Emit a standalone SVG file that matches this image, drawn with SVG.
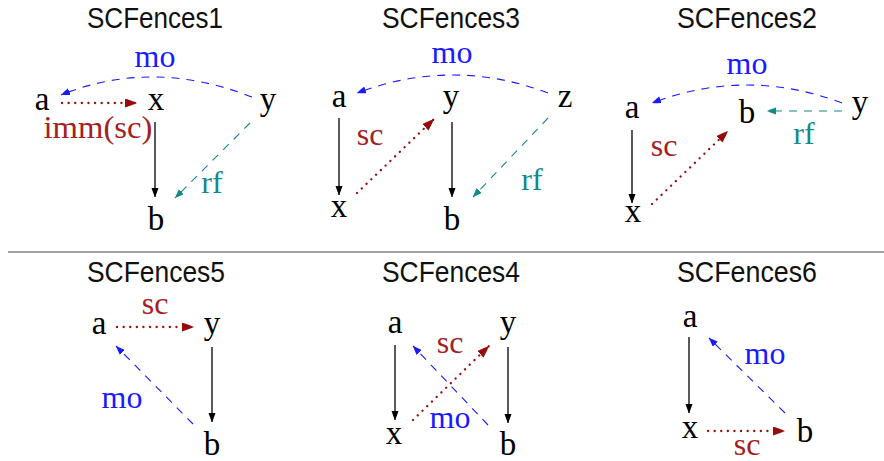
<svg xmlns="http://www.w3.org/2000/svg" width="884" height="461" viewBox="0 0 884 461">
<style>
.title{font-family:"Liberation Sans","DejaVu Sans",sans-serif;font-size:30px;fill:#111;text-anchor:middle}
.node{font-family:"Liberation Serif","DejaVu Serif",serif;font-size:33px;fill:#000;text-anchor:middle}
.lab{font-family:"Liberation Serif","DejaVu Serif",serif;font-size:32px;text-anchor:middle}
.lb{fill:#1a1aff}.lr{fill:#a32121}.lt{fill:#138a87}
.po{fill:none;stroke:#000;stroke-width:1.3}
.mo{fill:none;stroke:#1a1aff;stroke-width:1.1;stroke-dasharray:8 7}
.sc{fill:none;stroke:#960c0c;stroke-width:2.3;stroke-dasharray:0.1 6.5;stroke-linecap:round}
.rf{fill:none;stroke:#138a87;stroke-width:1.1;stroke-dasharray:8 7}
</style>
<defs>
<marker id="ak" markerUnits="userSpaceOnUse" markerWidth="12" markerHeight="10" refX="9" refY="3.5" orient="auto"><path d="M0,0 Q5.5,1.8 9,3.5 Q5.5,5.2 0,7 Z" fill="#000"/></marker>
<marker id="ab" markerUnits="userSpaceOnUse" markerWidth="12" markerHeight="10" refX="9" refY="3.5" orient="auto"><path d="M0,0 Q5.5,1.8 9,3.5 Q5.5,5.2 0,7 Z" fill="#1a1aff"/></marker>
<marker id="at" markerUnits="userSpaceOnUse" markerWidth="12" markerHeight="10" refX="9" refY="3.5" orient="auto"><path d="M0,0 Q5.5,1.8 9,3.5 Q5.5,5.2 0,7 Z" fill="#138a87"/></marker>
<marker id="ar" markerUnits="userSpaceOnUse" markerWidth="14" markerHeight="12" refX="12" refY="4.5" orient="auto"><path d="M0,0 Q7,2.2 12,4.5 Q7,6.8 0,9 Z" fill="#960c0c"/></marker>
</defs>

<line x1="8" y1="252" x2="884" y2="252" stroke="#444" stroke-width="1.2"/>

<g id="titles">
<text class="title" x="155" y="28" textLength="136" lengthAdjust="spacingAndGlyphs">SCFences1</text>
<text class="title" x="451" y="28" textLength="138" lengthAdjust="spacingAndGlyphs">SCFences3</text>
<text class="title" x="747" y="28" textLength="140" lengthAdjust="spacingAndGlyphs">SCFences2</text>
<text class="title" x="156" y="282" textLength="138" lengthAdjust="spacingAndGlyphs">SCFences5</text>
<text class="title" x="451" y="282" textLength="138" lengthAdjust="spacingAndGlyphs">SCFences4</text>
<text class="title" x="747" y="282" textLength="140" lengthAdjust="spacingAndGlyphs">SCFences6</text>
</g>

<!-- Panel 1 -->
<g id="p1-a"><text class="node" x="42" y="110">a</text></g>
<g id="p1-x"><text class="node" x="156" y="110">x</text></g>
<g id="p1-y"><text class="node" x="268" y="110">y</text></g>
<g id="p1-b"><text class="node" x="156" y="230">b</text></g>

<!-- Panel 3 -->
<g id="p3-a"><text class="node" x="339" y="107">a</text></g>
<g id="p3-y"><text class="node" x="451" y="107">y</text></g>
<g id="p3-z"><text class="node" x="565" y="107">z</text></g>
<g id="p3-x"><text class="node" x="339" y="217">x</text></g>
<g id="p3-b"><text class="node" x="452" y="230">b</text></g>

<!-- Panel 2 -->
<g id="p2-a"><text class="node" x="632" y="118">a</text></g>
<g id="p2-b"><text class="node" x="747" y="123">b</text></g>
<g id="p2-y"><text class="node" x="860" y="113">y</text></g>
<g id="p2-x"><text class="node" x="633" y="222">x</text></g>

<!-- Panel 5 -->
<g id="p5-a"><text class="node" x="99" y="334">a</text></g>
<g id="p5-y"><text class="node" x="212" y="334">y</text></g>
<g id="p5-b"><text class="node" x="212" y="455">b</text></g>

<!-- Panel 4 -->
<g id="p4-a"><text class="node" x="395" y="333">a</text></g>
<g id="p4-y"><text class="node" x="508" y="333">y</text></g>
<g id="p4-x"><text class="node" x="394" y="444">x</text></g>
<g id="p4-b"><text class="node" x="508" y="455">b</text></g>

<!-- Panel 6 -->
<g id="p6-a"><text class="node" x="690" y="327">a</text></g>
<g id="p6-x"><text class="node" x="690" y="438">x</text></g>
<g id="p6-b"><text class="node" x="805" y="442">b</text></g>

<g id="connectors">
<!-- Panel 1 -->
<line class="sc" x1="62" y1="103" x2="137" y2="103" marker-end="url(#ar)"/>
<line class="po" x1="155" y1="122" x2="155" y2="197" marker-end="url(#ak)"/>
<path class="mo" d="M252,97 Q152,58 61,95" marker-end="url(#ab)"/>
<line class="rf" x1="250" y1="123" x2="175" y2="198" marker-end="url(#at)"/>
<!-- Panel 3 -->
<line class="po" x1="339" y1="118" x2="339" y2="195" marker-end="url(#ak)"/>
<line class="po" x1="452" y1="122" x2="452" y2="197" marker-end="url(#ak)"/>
<line class="sc" x1="357" y1="193" x2="434" y2="119" marker-end="url(#ar)"/>
<path class="mo" d="M548,93 Q453,57 357,93" marker-end="url(#ab)"/>
<line class="rf" x1="548" y1="118" x2="473" y2="197" marker-end="url(#at)"/>
<!-- Panel 2 -->
<line class="po" x1="632" y1="130" x2="632" y2="203" marker-end="url(#ak)"/>
<line class="sc" x1="652" y1="204" x2="728" y2="131" marker-end="url(#ar)"/>
<path class="mo" d="M842,103 Q747,67 652,103" marker-end="url(#ab)"/>
<line class="rf" x1="842" y1="111" x2="767" y2="111" marker-end="url(#at)"/>
<!-- Panel 5 -->
<line class="sc" x1="117" y1="327" x2="194" y2="327" marker-end="url(#ar)"/>
<line class="po" x1="212" y1="347" x2="212" y2="422" marker-end="url(#ak)"/>
<line class="mo" x1="193" y1="424" x2="116" y2="346" marker-end="url(#ab)"/>
<!-- Panel 4 -->
<line class="po" x1="395" y1="345" x2="395" y2="420" marker-end="url(#ak)"/>
<line class="po" x1="508" y1="347" x2="508" y2="423" marker-end="url(#ak)"/>
<line class="sc" x1="413" y1="420" x2="489" y2="346" marker-end="url(#ar)"/>
<line class="mo" x1="488" y1="425" x2="413" y2="346" marker-end="url(#ab)"/>
<!-- Panel 6 -->
<line class="po" x1="689" y1="337" x2="689" y2="413" marker-end="url(#ak)"/>
<line class="sc" x1="708" y1="431" x2="785" y2="431" marker-end="url(#ar)"/>
<line class="mo" x1="785" y1="413" x2="709" y2="338" marker-end="url(#ab)"/>
</g>

<g id="labels">
<text class="lab lr" x="98" y="138" textLength="109" lengthAdjust="spacingAndGlyphs">imm(sc)</text>
<text class="lab lb" x="155" y="67">mo</text>
<text class="lab lt" x="212" y="193">rf</text>
<text class="lab lr" x="370" y="145">sc</text>
<text class="lab lb" x="452" y="63">mo</text>
<text class="lab lt" x="532" y="190">rf</text>
<text class="lab lr" x="664" y="156">sc</text>
<text class="lab lb" x="747" y="74">mo</text>
<text class="lab lt" x="804" y="144">rf</text>
<text class="lab lr" x="155" y="314">sc</text>
<text class="lab lb" x="122" y="408">mo</text>
<text class="lab lr" x="450" y="353">sc</text>
<text class="lab lb" x="450" y="428">mo</text>
<text class="lab lb" x="765" y="364">mo</text>
<text class="lab lr" x="747" y="455">sc</text>
</g>
</svg>
